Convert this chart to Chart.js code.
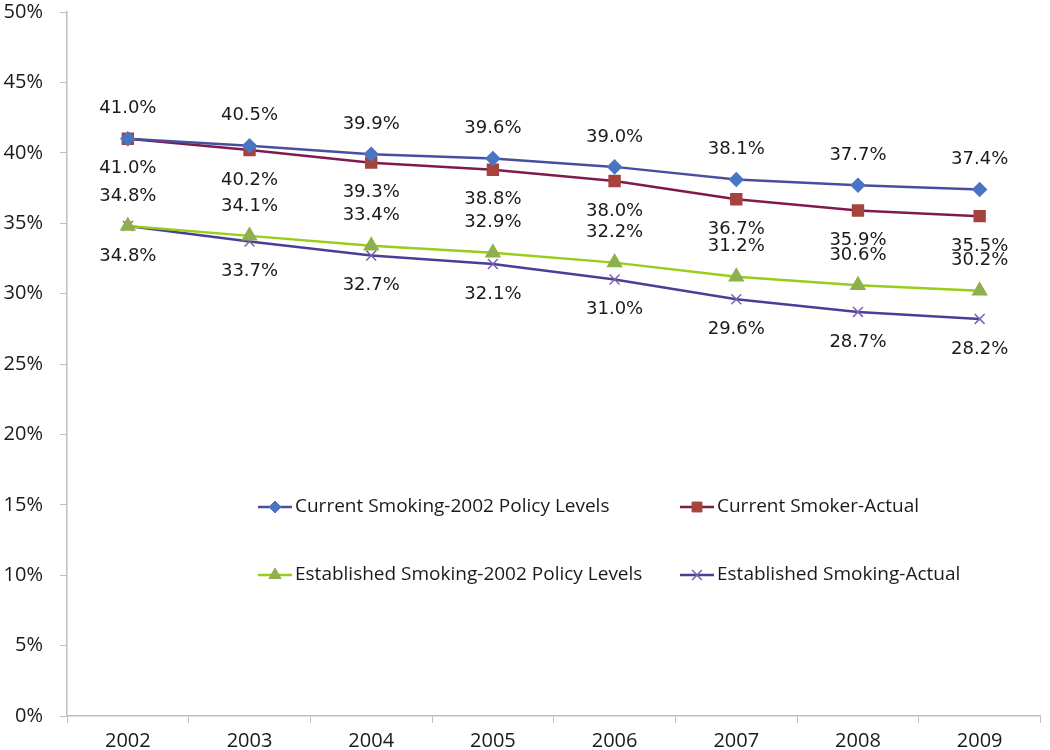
<!DOCTYPE html>
<html>
<head>
<meta charset="utf-8">
<script src="https://cdn.jsdelivr.net/npm/chart.js@4.4.1/dist/chart.umd.min.js"></script>
<style>
  body { margin: 0; background: #fff; }
  #wrap { width: 1050px; height: 750px; }
</style>
</head>
<body>
<div id="wrap"><canvas id="smokeChart" width="1050" height="750"></canvas></div>
<script>
// === Data ===
const years = ["2002", "2003", "2004", "2005", "2006", "2007", "2008", "2009"];
const currentPolicy = [41.0, 40.5, 39.9, 39.6, 39.0, 38.1, 37.7, 37.4];
const currentActual = [41.0, 40.2, 39.3, 38.8, 38.0, 36.7, 35.9, 35.5];
const establishedPolicy = [34.8, 34.1, 33.4, 32.9, 32.2, 31.2, 30.6, 30.2];
const establishedActual = [34.8, 33.7, 32.7, 32.1, 31.0, 29.6, 28.7, 28.2];
const yTicks = [0, 5, 10, 15, 20, 25, 30, 35, 40, 45, 50];

const tickFont = { family: "'Open Sans', 'Liberation Sans', sans-serif", size: 20 };
const labelFont = "18px 'DejaVu Sans', sans-serif";
const legendFont = "19px 'Open Sans', 'Liberation Sans', sans-serif";

// which side of the point the value label sits on (-1 above, 1 below)
const labelSide = [-1, 1, -1, 1];

// draws the value labels next to each point
const valueLabels = {
  id: "valueLabels",
  afterDatasetsDraw(chart) {
    const ctx = chart.ctx;
    ctx.save();
    ctx.font = labelFont;
    ctx.fillStyle = "#1a1a1a";
    ctx.textAlign = "center";
    ctx.textBaseline = "middle";
    chart.data.datasets.forEach((ds, i) => {
      const meta = chart.getDatasetMeta(i);
      meta.data.forEach((pt, j) => {
        ctx.fillText(ds.data[j].toFixed(1) + "%", pt.x, pt.y + labelSide[i] * 30);
      });
    });
    ctx.restore();
  }
};

function drawMarker(ctx, style, r, x, y) {
  Chart.helpers.drawPoint(ctx, { pointStyle: style, radius: r, borderWidth: ctx.lineWidth, rotation: 0 }, x, y);
}

// legend inside the plot area, two rows of two
const insideLegend = {
  id: "insideLegend",
  afterDraw(chart) {
    const ctx = chart.ctx;
    const cols = [258, 680];
    const rows = [507, 575];
    ctx.save();
    ctx.font = legendFont;
    ctx.textBaseline = "middle";
    chart.data.datasets.forEach((ds, i) => {
      const x = cols[i % 2];
      const y = rows[Math.floor(i / 2)];
      ctx.strokeStyle = ds.borderColor;
      ctx.lineWidth = 2.5;
      ctx.beginPath();
      ctx.moveTo(x, y);
      ctx.lineTo(x + 34, y);
      ctx.stroke();
      ctx.fillStyle = ds.pointBackgroundColor;
      ctx.strokeStyle = ds.pointBorderColor;
      ctx.lineWidth = ds.pointBorderWidth || 1;
      drawMarker(ctx, ds.pointStyle, ds.pointRadius, x + 17, y);
      ctx.fillStyle = "#1a1a1a";
      ctx.fillText(ds.label, x + 37, y);
    });
    ctx.restore();
  }
};

const ctx = document.getElementById("smokeChart").getContext("2d");
const smokeChart = new Chart(ctx, {
  type: "line",
  data: {
    labels: years,
    datasets: [{
      label: "Current Smoking-2002 Policy Levels",
      data: currentPolicy,
      borderColor: "#4a4e9f",
      pointBackgroundColor: "#4a74c4",
      pointBorderColor: "#4a74c4",
      pointStyle: "rectRot",
      pointRadius: 6
    }, {
      label: "Current Smoker-Actual",
      data: currentActual,
      borderColor: "#7d1c4c",
      pointBackgroundColor: "#a5433c",
      pointBorderColor: "#a5433c",
      pointStyle: "rect",
      pointRadius: 7
    }, {
      label: "Established Smoking-2002 Policy Levels",
      data: establishedPolicy,
      borderColor: "#9acc1a",
      pointBackgroundColor: "#8db04c",
      pointBorderColor: "#8db04c",
      pointStyle: "triangle",
      pointRadius: 7
    }, {
      label: "Established Smoking-Actual",
      data: establishedActual,
      borderColor: "#4a3f96",
      pointBackgroundColor: "#7e62ae",
      pointBorderColor: "#7e62ae",
      pointBorderWidth: 1.5,
      pointStyle: "crossRot",
      pointRadius: 7
    }].map(ds => Object.assign({ borderWidth: 2.5, tension: 0, fill: false }, ds))
  },
  options: {
    responsive: false,
    animation: false,
    layout: { padding: { top: 12, right: 4, left: 0, bottom: 0 } },
    plugins: {
      legend: { display: false },
      tooltip: { enabled: false }
    },
    scales: {
      x: {
        offset: true,
        grid: { offset: true, drawOnChartArea: false, tickLength: 7, color: "#bfbfbf" },
        border: { color: "#bfbfbf", width: 1.5 },
        ticks: { color: "#1a1a1a", font: tickFont, padding: 6 },
        afterFit: s => { s.height = 34; s.paddingLeft = 0; s.paddingRight = 0; }
      },
      y: {
        min: 0,
        max: 50,
        afterBuildTicks: s => { s.ticks = yTicks.map(v => ({ value: v })); },
        grid: { drawOnChartArea: false, tickLength: 7, color: "#bfbfbf" },
        border: { color: "#bfbfbf", width: 1.5 },
        ticks: { color: "#1a1a1a", font: tickFont, padding: 17, callback: v => v + "%" },
        afterFit: s => { s.width = 67; s.paddingTop = 0; s.paddingBottom = 0; }
      }
    }
  },
  plugins: [valueLabels, insideLegend]
});
</script>
</body>
</html>
